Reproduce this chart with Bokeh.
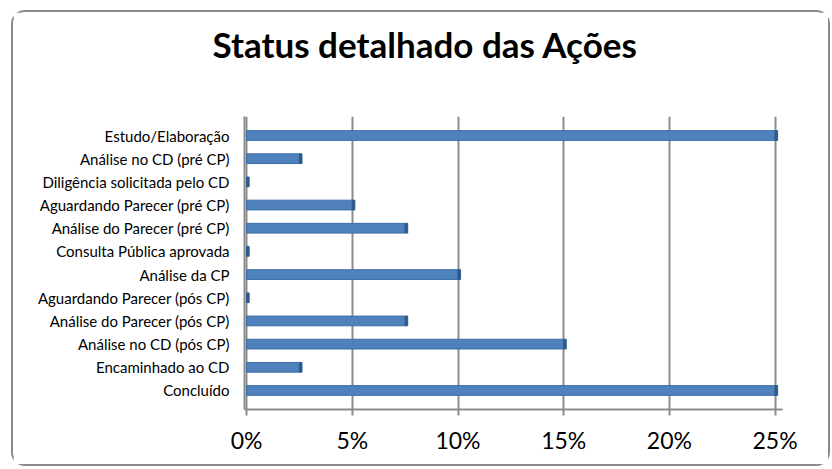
from bokeh.plotting import figure
from bokeh.models import FactorRange, FixedTicker, PrintfTickFormatter, Title, ColumnDataSource, Range1d
from bokeh.embed import file_html
from bokeh.resources import INLINE

categories = [
    "Estudo/Elaboração",
    "Análise no CD (pré CP)",
    "Diligência solicitada pelo CD",
    "Aguardando Parecer (pré CP)",
    "Análise do Parecer (pré CP)",
    "Consulta Pública aprovada",
    "Análise da CP",
    "Aguardando Parecer (pós CP)",
    "Análise do Parecer (pós CP)",
    "Análise no CD (pós CP)",
    "Encaminhado ao CD",
    "Concluído",
]
values = [25, 2.5, 0, 5, 7.5, 0, 10, 0, 7.5, 15, 2.5, 25]
x_ticks = [0, 5, 10, 15, 20, 25]
title_text = "Status detalhado das Ações"

FONT = "Lato"
DEPTH = 0.12  # visual depth of the bar's side face, in axis units

src = ColumnDataSource(dict(cat=categories, val=values,
                            face=[v + DEPTH for v in values]))

p = figure(
    width=819, height=456,
    y_range=FactorRange(factors=list(reversed(categories)), range_padding=0.32,
                        range_padding_units="absolute"),
    x_range=Range1d(-0.1, 25.35),
    output_backend="svg", toolbar_location=None,
    min_border_left=231, min_border_right=50, min_border_top=104, min_border_bottom=59,
)
p.styles = {"border": "2px solid #8a8a8a", "border-radius": "14px", "margin": "10px 0 0 11px"}

spacer = Title(text=" ", text_font=FONT, text_font_size="10px", standoff=38)
p.add_layout(spacer, "above")
title = Title(text=title_text, align="left", offset=-32, text_font=FONT,
              text_font_size="35px", text_font_style="bold", text_color="#000000",
              standoff=0)
p.add_layout(title, "above")

p.outline_line_color = None
p.ygrid.grid_line_color = None
p.xgrid.grid_line_color = "#8c8c8c"
p.xgrid.grid_line_width = 2
p.xgrid.ticker = FixedTicker(ticks=x_ticks)

p.hbar(y="cat", right="val", left=0, height=0.42, source=src,
       fill_color="#4F81BD", line_color="#3F6EA6", line_width=1)
p.hbar(y="cat", right="face", left="val", height=0.42, source=src,
       fill_color="#2F5A8C", line_color="#2F5A8C", line_width=1)

p.xaxis.ticker = FixedTicker(ticks=x_ticks)
p.xaxis.formatter = PrintfTickFormatter(format="%d%%")
p.xaxis.axis_line_color = "#8c8c8c"
p.xaxis.axis_line_width = 2
p.xaxis.major_tick_line_color = "#8c8c8c"
p.xaxis.major_tick_line_width = 2
p.xaxis.major_tick_out = 6
p.xaxis.major_tick_in = 0
p.xaxis.minor_tick_line_color = None
p.xaxis.major_label_text_font = FONT
p.xaxis.major_label_text_font_size = "23px"
p.xaxis.major_label_text_color = "#000000"
p.xaxis.major_label_standoff = 10

p.yaxis.axis_line_color = "#8c8c8c"
p.yaxis.axis_line_width = 2
p.yaxis.major_tick_line_color = None
p.yaxis.major_tick_out = 0
p.yaxis.major_tick_in = 0
p.yaxis.minor_tick_line_color = None
p.yaxis.major_label_text_font = FONT
p.yaxis.major_label_text_font_size = "15px"
p.yaxis.major_label_text_color = "#000000"
p.yaxis.major_label_standoff = 15

open("out.html", "w").write(file_html(p, INLINE))
